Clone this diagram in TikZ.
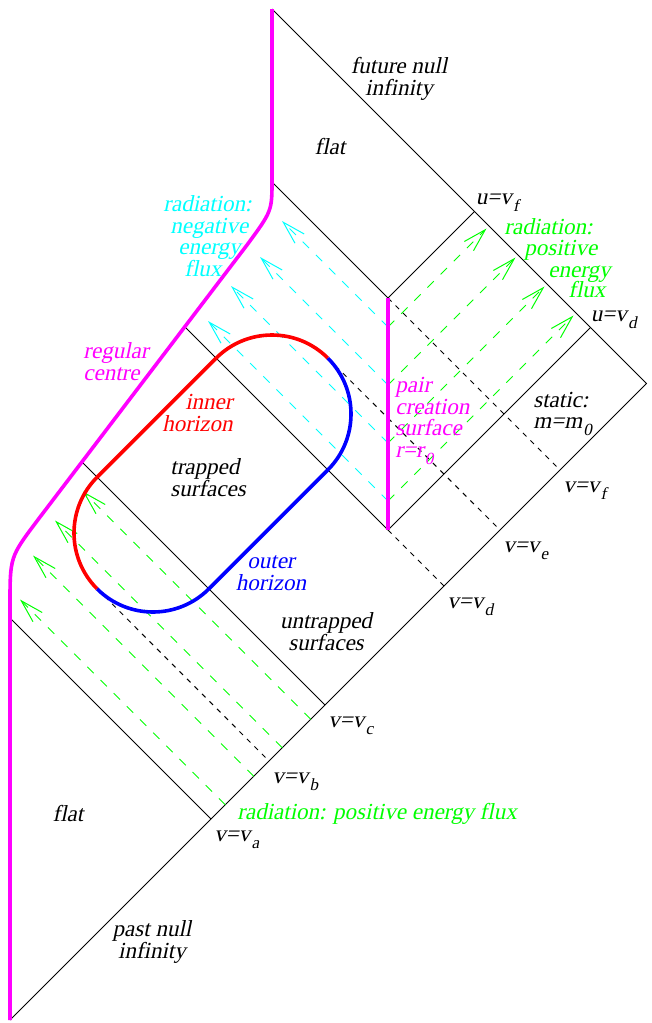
\documentclass[tikz,border=0pt]{standalone}
\usepackage{fontspec}
\newfontfamily\figfont{Liberation Serif}[FakeSlant=0.21]
\usetikzlibrary{arrows.meta,positioning,calc}
\definecolor{figmagenta}{rgb}{1,0,1}
\definecolor{figcyan}{rgb}{0,1,1}
\definecolor{figgreen}{rgb}{0,1,0}
\newcommand{\lsub}[1]{\kern0.6pt\raisebox{-3.5pt}{\fontsize{8.5}{8.5}\selectfont #1}}

\begin{document}
\begin{tikzpicture}[
  x=0.5pt, y=-0.5pt,
  >={Straight Barb[length=11.5pt,width=6.5pt]},
  every node/.style={font=\figfont\fontsize{11.5}{10.9}\selectfont, inner sep=0pt},
  bound/.style={line width=0.5pt},
  ray/.style={line width=0.5pt, dash pattern=on 2.5pt off 2.8pt},
  flux/.style={line width=0.5pt, dash pattern=on 4.5pt off 4.8pt, ->},
  thickline/.style={line width=1.8pt}
]
  \useasboundingbox (0,0) rectangle (652,1023);

  % corners and bends
  \coordinate (origin) at (10,1020);
  \coordinate (apex) at (272,9);
  \coordinate (iplus) at (646.5,383.5);
  \coordinate (bendlow) at (10,557);
  \coordinate (bendhigh) at (272,211);

  % ticks on past null infinity
  \coordinate (va) at (211,819);
  \coordinate (vb) at (269,761);
  \coordinate (vc) at (325,705);
  \coordinate (vd) at (444,586);
  \coordinate (ve) at (500,530);
  \coordinate (vf) at (560,470);
  % ticks on future null infinity
  \coordinate (uf) at (474.5,211.5);
  \coordinate (ud) at (590.5,327.5);
  % ends on the centre
  \coordinate (ca) at (10,618);
  \coordinate (cc) at (82,462);
  \coordinate (cd) at (184.6,326.6);
  \coordinate (cf) at (272,182);
  % pair creation surface
  \coordinate (ptop) at (388,298);
  \coordinate (pbot) at (388,530);
  % horizon caps
  \coordinate (h1) at (153,533);
  \coordinate (h2) at (272,414);
  \coordinate (tipb) at ($(h1)+(135:79)$);
  \coordinate (tipe) at ($(h2)+(315:79)$);

  % null lines
  \draw[bound] (origin) -- (iplus) -- (apex);
  \draw[bound] (ca) -- (va);
  \draw[bound] (cc) -- (vc);
  \draw[bound] (cd) -- (pbot);
  \draw[bound] (cf) -- (ptop) -- (uf);
  \draw[bound] (pbot) -- (ud);
  \draw[ray] (ptop) -- (vf);
  \draw[ray] (pbot) -- (vd);
  \draw[ray] (tipb) -- (vb);
  \draw[ray] (tipe) -- (ve);

  % radiation from past null infinity
  \foreach \v/\tx [count=\i] in {-579.5/20, -522.5/33, -465.5/55, -408.5/83}{
    \coordinate (pin\i) at ({(1030+(\v))/2},{(1030-(\v))/2});
    \coordinate (pit\i) at (\tx,{\tx-(\v)});
    \draw[flux, figgreen] (pin\i) -- (pit\i);
  }

  % radiation from the pair creation surface
  \foreach \u/\v/\tx [count=\i] in {715/61/282, 773/3/260, 831/-55/231, 889/-113/208}{
    \coordinate (pc\i) at (388,{\u-388});
    \coordinate (neg\i) at (\tx,{\tx-(\v)});
    \coordinate (pos\i) at ({(\u+258)/2},{(\u-258)/2});
    \draw[flux, figcyan] (pc\i) -- (neg\i);
    \draw[flux, figgreen] (pc\i) -- (pos\i);
  }

  % horizons
  \draw[thickline, red] (tipb) arc[start angle=135, end angle=225, radius=79]
    -- ($(h2)+(225:79)$) arc[start angle=225, end angle=315, radius=79];
  \draw[thickline, blue] (tipe) arc[start angle=315, end angle=405, radius=79]
    -- ($(h1)+(45:79)$) arc[start angle=45, end angle=135, radius=79];

  % centre and pair creation surface
  \draw[thickline, figmagenta] (origin) -- (10,605) .. controls (bendlow) .. (37,521)
    -- (247,245) .. controls (bendhigh) .. (272,180) -- (apex);
  \draw[thickline, figmagenta] (ptop) -- (pbot);

  % regions
  \node (flattop) [anchor=mid] at (330,150) {flat};
  \node (flatbot) [anchor=mid] at (68,817) {flat};
  \node (trapped) [align=left, anchor=west] at (170,478) {trapped\\surfaces};
  \node (untrapped) [align=center] at (326,632) {untrapped\\surfaces};
  \node (static) [align=left, anchor=west] at (533,414) {static:\\m=m\lsub{0}};
  \node (scriplus) [align=center] at (399,79) {future null\\infinity};
  \node (scriminus) [align=center] at (152,942) {past null\\infinity};

  % curve labels
  \node (reg) [figmagenta, align=left, anchor=west] at (83,362) {regular\\centre};
  \node (inner) [red, align=right, anchor=east] at (233,413) {inner\\horizon};
  \node (outer) [blue, align=center] at (271,573) {outer\\horizon};
  \node (pair) [figmagenta, align=left, anchor=west] at (395,421) {pair\\creation\\surface\\r=r\lsub{0}};

  % radiation labels
  \foreach \t/\x/\y [count=\i] in {radiation:/163/207, negative/170/229, energy/178/250, flux/184/272}
    \node (negtxt\i) [figcyan, anchor=mid west] at (\x,\y) {\t};
  \foreach \t/\x/\y [count=\i] in {radiation:/504/230, positive/524/251, energy/548/273, flux/568/293}
    \node (postxt\i) [figgreen, anchor=mid west] at (\x,\y) {\t};
  \node (posbot) [figgreen, anchor=mid west] at (237,815) {radiation: positive energy flux};

  % null coordinate labels
  \node (luf) [anchor=mid west] at ([shift={(1,-11)}]uf) {u=v\lsub{f}};
  \node (lud) [anchor=mid west] at ([shift={(0,-10.5)}]ud) {u=v\lsub{d}};
  \foreach \p in {a,b,c,d,e,f}
    \node (lv\p) [anchor=mid west] at ([shift={(3,18.5)}]v\p) {v=v\lsub{\p}};
\end{tikzpicture}
\end{document}
